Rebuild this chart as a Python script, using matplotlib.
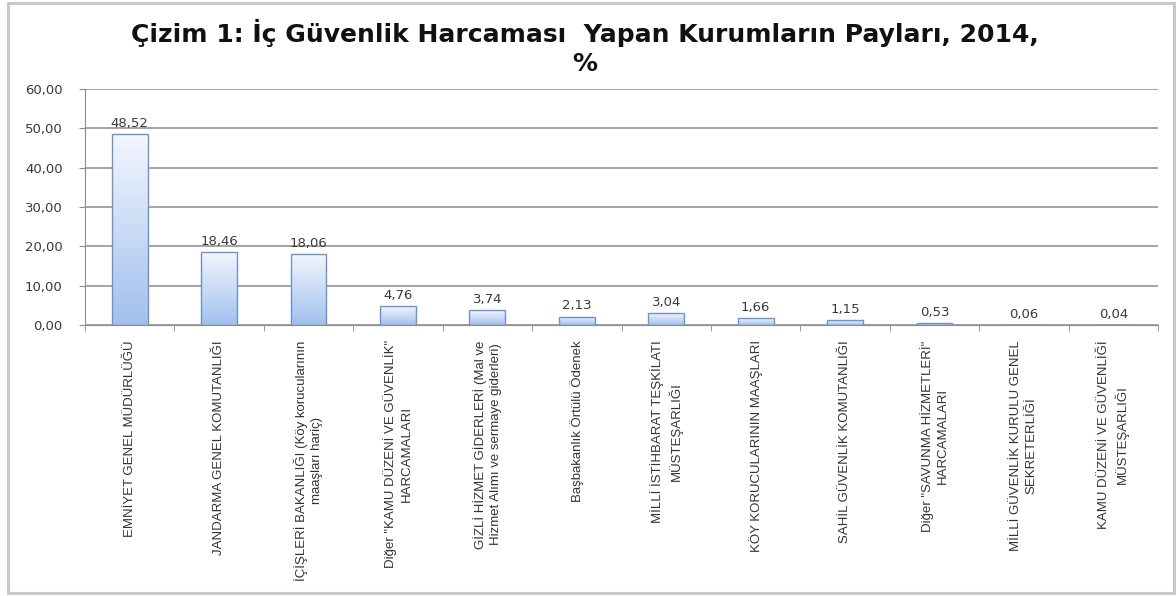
import numpy as np
import matplotlib
matplotlib.use("Agg")
import matplotlib.pyplot as plt
from matplotlib.patches import Rectangle
from matplotlib.colors import LinearSegmentedColormap

# data
categories = [
    "EMNİYET GENEL MÜDÜRLÜĞÜ",
    "JANDARMA GENEL KOMUTANLIĞI",
    "İÇİŞLERİ BAKANLIĞI (Köy korucularının\nmaaşları hariç)",
    'Diğer "KAMU DÜZENİ VE GÜVENLİK"\nHARCAMALARI',
    "GİZLİ HİZMET GİDERLERİ (Mal ve\nHizmet Alımı ve sermaye giderleri)",
    "Başbakanlık Örtülü Ödenek",
    "MİLLİ İSTİHBARAT TEŞKİLATI\nMÜSTEŞARLIĞI",
    "KÖY KORUCULARININ MAAŞLARI",
    "SAHİL GÜVENLİK KOMUTANLIĞI",
    'Diğer "SAVUNMA HİZMETLERİ"\nHARCAMALARI',
    "MİLLİ GÜVENLİK KURULU GENEL\nSEKRETERLİĞİ",
    "KAMU DÜZENİ VE GÜVENLİĞİ\nMÜSTEŞARLIĞI",
]
shares = [48.52, 18.46, 18.06, 4.76, 3.74, 2.13, 3.04, 1.66, 1.15, 0.53, 0.06, 0.04]
y_ticks = [0, 10, 20, 30, 40, 50, 60]
title = "Çizim 1: İç Güvenlik Harcaması  Yapan Kurumların Payları, 2014,\n%"


def tr_num(v):
    # turkish decimal comma
    return f"{v:.2f}".replace(".", ",")


W, H = 1176, 596
fig = plt.figure(figsize=(W / 100, H / 100), dpi=100)
fig.patch.set_facecolor("white")

# outer chart frame
fig.patches.append(Rectangle((8 / W, 3 / H), (1174 - 8) / W, (593 - 3) / H,
                             transform=fig.transFigure, fill=False,
                             edgecolor="#c8c8c8", linewidth=2.2))

ax = fig.add_axes([85 / W, 1 - 325 / H, (1158 - 85) / W, (325 - 89) / H])

x = np.arange(len(categories))
bar_w = 0.4
grad = LinearSegmentedColormap.from_list("bar", ["#a2c0ee", "#f2f6fd"])
gimg = np.linspace(0, 1, 100).reshape(-1, 1)

bars = ax.bar(x, shares, width=bar_w, color="none", edgecolor="#6f93c6",
              linewidth=1.0, zorder=3)
for b in bars:
    x0, w, h = b.get_x(), b.get_width(), b.get_height()
    im = ax.imshow(gimg, cmap=grad, origin="lower", aspect="auto",
                   extent=[x0, x0 + w, 0, h], zorder=2)
    im.set_clip_path(b)

for xi, v in zip(x, shares):
    ax.annotate(tr_num(v), (xi, v), xytext=(0, 3), textcoords="offset points",
                ha="center", va="bottom", fontsize=9.5, color="#3a3a3a",
                family="DejaVu Sans")

ax.set_xlim(-0.5, len(categories) - 0.5)
ax.set_ylim(0, 60)

ax.set_yticks(y_ticks)
ax.set_yticklabels([tr_num(t) for t in y_ticks], fontsize=9.5, color="#3a3a3a",
                   family="DejaVu Sans")
ax.tick_params(axis="y", length=4, color="#8c8c8c", pad=12)

ax.set_xticks(x)
ax.set_xticklabels(categories, rotation=90, ha="center", va="top",
                   multialignment="center", fontsize=9.5, color="#333333",
                   family="Liberation Sans", linespacing=1.35)
ax.set_xticks(np.arange(len(categories) + 1) - 0.5, minor=True)
ax.tick_params(axis="x", which="major", length=0, pad=11)
ax.tick_params(axis="x", which="minor", length=4, color="#8c8c8c")

ax.yaxis.grid(True, color="#959595", linewidth=1.2)
ax.set_axisbelow(True)
for s in ["top", "right"]:
    ax.spines[s].set_visible(False)
ax.spines["left"].set_color("#8c8c8c")
ax.spines["bottom"].set_color("#8c8c8c")
ax.spines["bottom"].set_zorder(4)

fig.text(0.497, 1 - 19 / H, title, ha="center", va="top", fontsize=18,
         fontweight="bold", family="DejaVu Sans", linespacing=1.25,
         color="#111111")

fig.savefig("out.png", dpi=100)
